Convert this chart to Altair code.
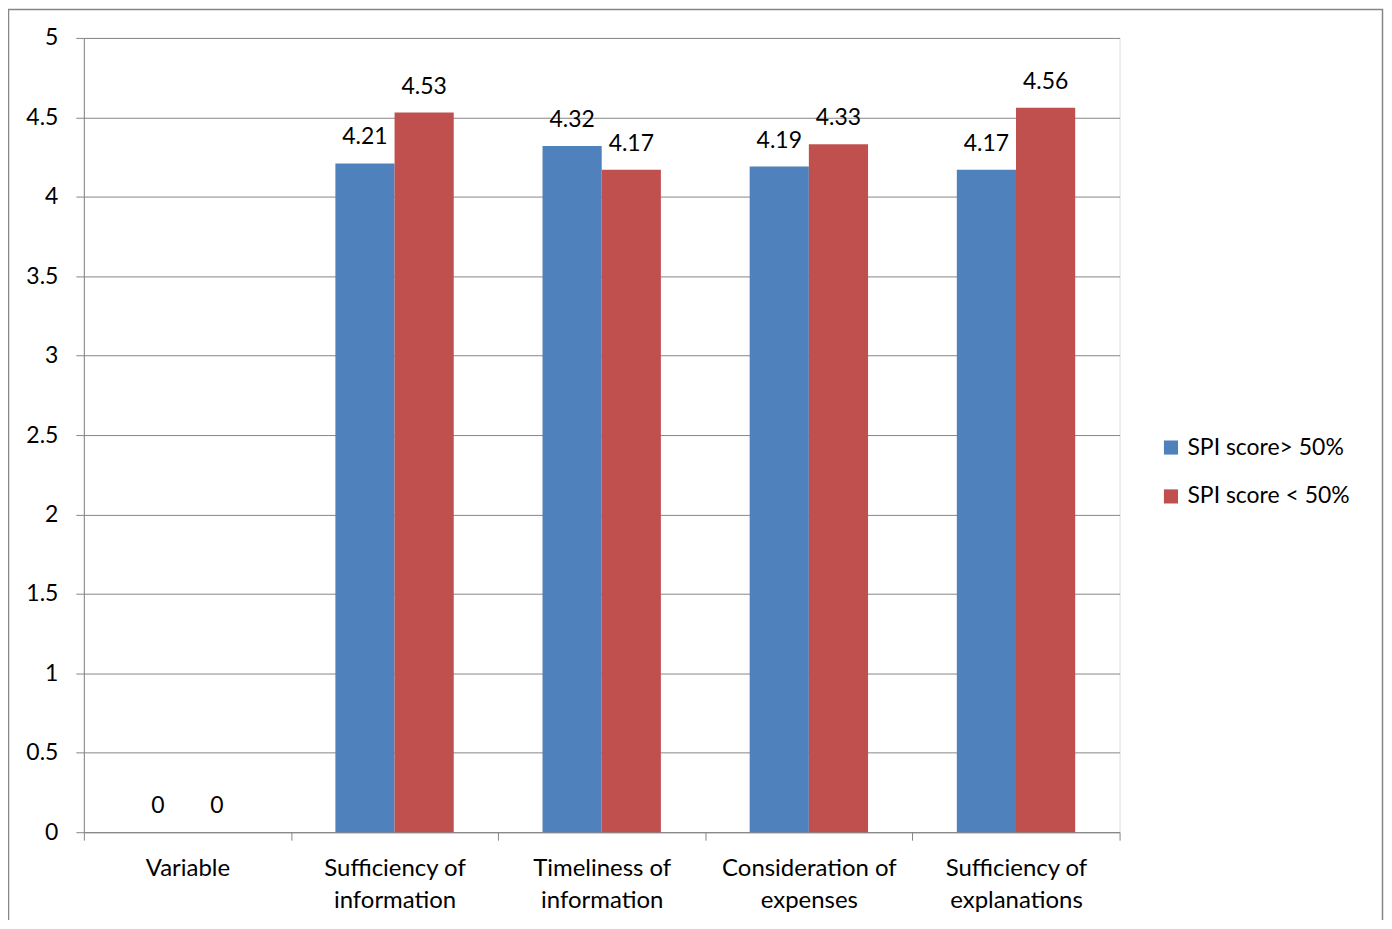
import altair as alt
import pandas as pd

categories = ["Variable", "Sufficiency of information", "Timeliness of information",
              "Consideration of expenses", "Sufficiency of explanations"]
series = ["SPI score> 50%", "\u00a0SPI score < 50%"]
values_high = [0, 4.21, 4.32, 4.19, 4.17]
values_low = [0, 4.53, 4.17, 4.33, 4.56]
colors = ["#4F81BD", "#C0504D"]
y_ticks = [0, 0.5, 1, 1.5, 2, 2.5, 3, 3.5, 4, 4.5, 5]

rows = []
for c, a, b in zip(categories, values_high, values_low):
    rows.append({"category": c, "series": series[0], "value": a})
    rows.append({"category": c, "series": series[1], "value": b})
df = pd.DataFrame(rows)

FONT = "Lato"
GREY = "#868686"

label_expr = ("indexof(datum.label, ' of ') > 0 ? "
              "[slice(datum.label, 0, indexof(datum.label, ' of ') + 3), "
              "slice(datum.label, indexof(datum.label, ' of ') + 4)] : datum.label")

x_enc = alt.X("category:N", sort=categories, title=None,
              scale=alt.Scale(paddingInner=0, paddingOuter=0),
              axis=alt.Axis(labelAngle=0, labelExpr=label_expr, tickBand="extent",
                            domainColor=GREY, tickColor=GREY, tickSize=8,
                            labelFontSize=24, labelFont=FONT, labelColor="#000000",
                            labelPadding=16, labelLineHeight=32, grid=False,
                            labelBaseline="top"))
xoff_enc = alt.XOffset("series:N", sort=series,
                       scale=alt.Scale(domain=series, paddingInner=0, paddingOuter=0.75))

bars = alt.Chart(df).mark_bar().encode(
    x=x_enc,
    xOffset=xoff_enc,
    y=alt.Y("value:Q", title=None,
            scale=alt.Scale(domain=[0, 5], nice=False),
            axis=alt.Axis(values=y_ticks, format=".1~f", grid=True, gridColor=GREY,
                          gridWidth=1, domainColor=GREY, tickColor=GREY, tickSize=8,
                          labelFontSize=23, labelFont=FONT, labelColor="#000000",
                          labelPadding=18)),
    color=alt.Color("series:N", sort=series,
                    scale=alt.Scale(domain=series, range=colors),
                    legend=alt.Legend(title=None, orient="none", legendX=1078, legendY=399,
                                      symbolType="square", symbolSize=200,
                                      symbolStrokeWidth=0, labelFontSize=23,
                                      labelFont=FONT, labelColor="#000000",
                                      labelLimit=400,
                                      rowPadding=25, labelOffset=5)),
)

texts = alt.Chart(df).mark_text(baseline="alphabetic", dy=-19, fontSize=23,
                                font=FONT, color="#000000").encode(
    x=alt.X("category:N", sort=categories),
    xOffset=alt.XOffset("series:N", sort=series),
    y=alt.Y("value:Q"),
    text=alt.Text("value:Q", format=".2~f"),
)

border = alt.Chart(pd.DataFrame({"k": [0]})).mark_rect(
    fill=None, stroke=GREY, strokeWidth=1.5).encode(
    x=alt.value(-75.5), x2=alt.value(1301.5), y=alt.value(-28.5), y2=alt.value(960))

chart = alt.layer(border, bars, texts).properties(
    width=1038, height=796,
    autosize=alt.AutoSizeParams(type="none"),
    padding={"left": 76, "top": 29, "right": 265, "bottom": 87},
).configure_view(stroke=None).configure(background="white")

chart.save("out.html", embed_options={"renderer": "svg", "actions": False})
